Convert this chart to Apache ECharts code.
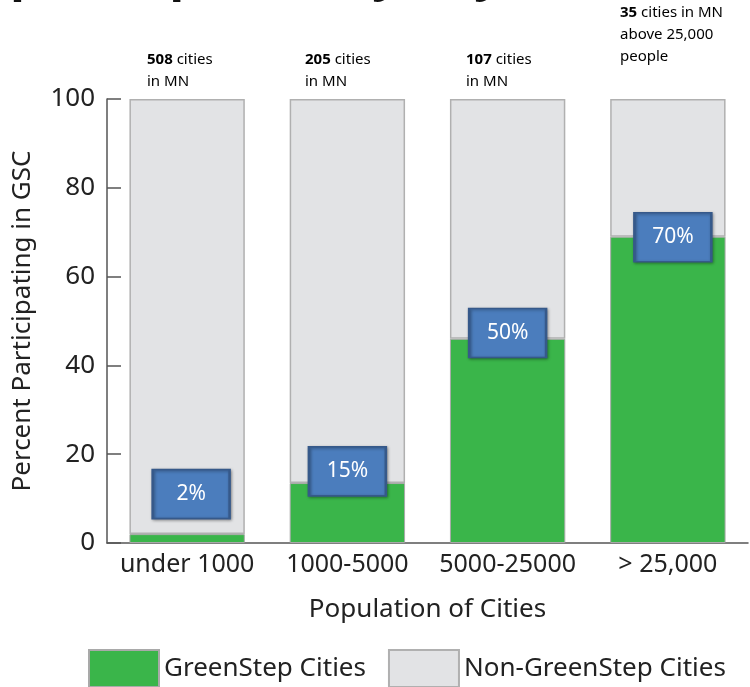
<!DOCTYPE html>
<html>
<head>
<meta charset="utf-8">
<script src="https://cdn.jsdelivr.net/npm/echarts@6/dist/echarts.min.js"></script>
<style>
html,body{margin:0;padding:0;background:#fff;}
#chart{width:750px;height:687px;}
</style>
</head>
<body>
<div id="chart"></div>
<script>
// ---- data ----
const categories = ['under 1000', '1000-5000', '5000-25000', '> 25,000'];
const greenStep = [2, 13.5, 46, 69];          // bar heights
const nonGreenStep = [98, 86.5, 54, 31];
const labelPct = [2, 15, 50, 70];             // printed percentages in boxes
const cityCounts = ['508', '205', '107', '35'];
const yTicks = [0, 20, 40, 60, 80, 100];

const FONT = '"Noto Sans", "Open Sans", sans-serif';
const labelOffsets = [[4, -40], [0, -5], [0, 12], [5, 5]];

const chart = echarts.init(document.getElementById('chart'));

const smallRich = {
  b: {fontFamily: FONT, fontSize: 15, fontWeight: 'bold', color: '#222', lineHeight: 22},
  n: {fontFamily: FONT, fontSize: 15, color: '#444', lineHeight: 22}
};
const countPos = [[147, 52], [305, 52], [466, 52]];
const graphics = countPos.map((p, i) => ({
  type: 'text', left: p[0], top: p[1],
  style: {
    text: '{b|' + cityCounts[i] + '}{n| cities}\n{n|in MN}',
    rich: smallRich
  }
}));
graphics.push({
  type: 'text', left: 620, top: 5,
  style: {
    text: '{b|' + cityCounts[3] + '}{n| cities in MN}\n{n|above 25,000}\n{n|people}',
    rich: smallRich
  }
});
// cut-off title at top of the picture
graphics.push({
  type: 'text', x: 10, y: -48,
  style: {
    text: 'participation by city size',
    fontFamily: '"Open Sans", sans-serif', fontSize: 49, fontWeight: 'bold', fill: '#111',
    verticalAlign: 'top'
  }
});

chart.setOption({
  animation: false,
  backgroundColor: '#fff',
  grid: {left: 107, right: 2, top: 99, bottom: 144, containLabel: false, outerBoundsMode: 'none'},
  legend: {
    data: ['GreenStep Cities', 'Non-GreenStep Cities'],
    left: 88, top: 649, padding: 0,
    itemWidth: 70, itemHeight: 37, itemGap: 22,
    icon: 'rect',
    textStyle: {fontFamily: FONT, fontSize: 26, color: '#222'}
  },
  graphic: graphics,
  xAxis: {
    type: 'category',
    data: categories,
    name: 'Population of Cities',
    nameLocation: 'middle',
    nameGap: 54,
    nameTextStyle: {fontFamily: FONT, fontSize: 26, color: '#222'},
    axisLine: {lineStyle: {color: '#555', width: 1.5}},
    axisTick: {inside: true, length: 10, lineStyle: {color: '#555'}},
    axisLabel: {fontFamily: FONT, fontSize: 25, color: '#222', margin: 9, interval: 0, hideOverlap: false}
  },
  yAxis: {
    type: 'value',
    min: 0, max: 100, interval: 20,
    name: 'Percent Participating in GSC',
    nameLocation: 'middle',
    nameGap: 71,
    nameTextStyle: {fontFamily: FONT, fontSize: 26, color: '#222'},
    axisLine: {show: true, lineStyle: {color: '#555', width: 1.5}},
    axisTick: {show: true, inside: true, length: 14, lineStyle: {color: '#555', width: 1.5}},
    splitLine: {show: false},
    axisLabel: {fontFamily: FONT, fontSize: 26, color: '#222', margin: 12,
      formatter: v => yTicks.includes(v) ? String(v) : ''}
  },
  series: [
    {
      name: 'GreenStep Cities', type: 'bar', stack: 'a', barWidth: '72%',
      data: greenStep,
      itemStyle: {color: '#3ab54a', borderColor: '#a9a9a9', borderWidth: 1}
    },
    {
      name: 'Non-GreenStep Cities', type: 'bar', stack: 'a', barWidth: '72%',
      data: nonGreenStep,
      itemStyle: {color: '#e2e3e5', borderColor: '#b0b0b0', borderWidth: 1.5}
    },
    {
      name: 'labels', type: 'scatter', z: 5,
      symbol: 'rect', symbolSize: [77, 49],
      data: labelPct.map((v, i) => ({value: [i, v], symbolOffset: labelOffsets[i]})),
      itemStyle: {color: '#4b7dbd', borderColor: '#36598a', borderWidth: 2,
        shadowColor: 'rgba(0,0,0,0.35)', shadowBlur: 3, shadowOffsetX: 1, shadowOffsetY: 1, opacity: 1},
      label: {show: true, position: 'inside', formatter: p => p.value[1] + '%',
        fontFamily: FONT, fontSize: 21, color: '#fff'},
      emphasis: {disabled: true}
    }
  ]
});
</script>
</body>
</html>
